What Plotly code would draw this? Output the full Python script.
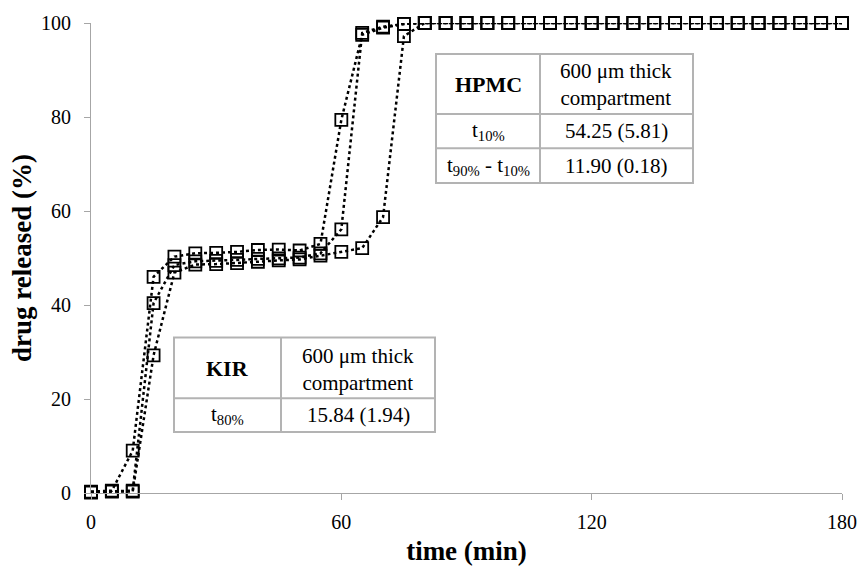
import plotly.graph_objects as go

time_min = list(range(0, 185, 5))

tail = [100.0] * 20  # 85..180
series_a = [0.3, 0.5, 9.0, 46.0, 50.3, 51.0, 51.1, 51.3, 51.7, 51.8, 51.6, 53.0, 79.4, 97.5, 99.0, 99.8, 100.0] + tail
series_b = [0.2, 0.4, 0.5, 40.4, 48.5, 49.3, 49.4, 49.6, 49.8, 49.9, 50.1, 51.0, 56.1, 97.9, 99.2, 99.8, 100.0] + tail
series_c = [0.1, 0.3, 0.3, 29.3, 46.9, 48.6, 48.7, 48.9, 49.2, 49.5, 49.7, 50.5, 51.3, 52.1, 58.7, 97.2, 100.0] + tail

x_ticks = [0, 60, 120, 180]
y_ticks = [0, 20, 40, 60, 80, 100]

FONT = "Liberation Serif, Times New Roman, serif"

fig = go.Figure()
for ys in (series_a, series_b, series_c):
    fig.add_trace(go.Scatter(
        x=time_min, y=ys, mode="lines+markers",
        line=dict(color="black", width=2.5, dash="dot"),
        marker=dict(symbol="square-open", size=12, color="black", line=dict(width=1.8)),
        showlegend=False, cliponaxis=False, hoverinfo="skip",
    ))

# plot-area geometry in pixels
L, R, T, B = 91, 842, 23, 493
W, H = 861, 567


def px(x):
    return (x - L) / (R - L)


def py(y):
    return (B - y) / (B - T)


shapes = []
annotations = []
BORDER = "#b3b3b3"


def table(x0, x1, xs, y0, y1, rows, cells):
    shapes.append(dict(type="rect", xref="paper", yref="paper",
                       x0=px(x0), x1=px(x1), y0=py(y1), y1=py(y0),
                       line=dict(color=BORDER, width=2), fillcolor="white", layer="above"))
    shapes.append(dict(type="line", xref="paper", yref="paper",
                       x0=px(xs), x1=px(xs), y0=py(y1), y1=py(y0),
                       line=dict(color=BORDER, width=2), layer="above"))
    for r in rows:
        shapes.append(dict(type="line", xref="paper", yref="paper",
                           x0=px(x0), x1=px(x1), y0=py(r), y1=py(r),
                           line=dict(color=BORDER, width=2), layer="above"))
    for (cx, cy, txt, bold) in cells:
        annotations.append(dict(xref="paper", yref="paper", x=px(cx), y=py(cy),
                                text=(f"<b>{txt}</b>" if bold else txt), showarrow=False,
                                font=dict(family=FONT, size=22 if bold else 21, color="black"),
                                xanchor="center", yanchor="middle"))


table(436, 693, 540, 54, 183, [114, 148.3], [
    (488, 84, "HPMC", True),
    (616, 85, "600 μm thick<br>compartment", False),
    (488, 131, "t<sub>10%</sub>", False),
    (616, 131, "54.25 (5.81)", False),
    (488, 166, "t<sub>90%</sub> - t<sub>10%</sub>", False),
    (616, 166, "11.90 (0.18)", False),
])

table(174, 435, 281, 337.5, 432, [398.3], [
    (227, 368, "KIR", True),
    (358, 369, "600 μm thick<br>compartment", False),
    (227, 415, "t<sub>80%</sub>", False),
    (358, 415, "15.84 (1.94)", False),
])

fig.update_layout(
    width=W, height=H,
    margin=dict(l=L, r=W - R, t=T, b=H - B, autoexpand=False),
    paper_bgcolor="white", plot_bgcolor="white",
    font=dict(family=FONT, size=20, color="black"),
    shapes=shapes, annotations=annotations,
    xaxis=dict(range=[0, 180], tickvals=x_ticks, showgrid=False, zeroline=False,
               automargin=False,
               showline=True, linecolor="#a6a6a6", linewidth=1,
               ticks="outside", ticklen=6, tickcolor="#a6a6a6", ticklabelstandoff=5,
               tickfont=dict(family=FONT, size=20, color="black"),
               title=dict(text="<b>time (min)</b>", font=dict(family=FONT, size=27, color="black"), standoff=9)),
    yaxis=dict(range=[0, 100], tickvals=y_ticks, showgrid=False, zeroline=False,
               automargin=False,
               showline=True, linecolor="#a6a6a6", linewidth=1,
               ticks="outside", ticklen=6, tickcolor="#a6a6a6", ticklabelstandoff=9,
               tickfont=dict(family=FONT, size=20, color="black"),
               title=dict(text="<b>drug released (%)</b>", font=dict(family=FONT, size=27, color="black"), standoff=1)),
)

fig.write_html("out.html", config={"displayModeBar": False},
               post_script="document.body.style.margin='0';document.body.style.overflow='hidden';")
